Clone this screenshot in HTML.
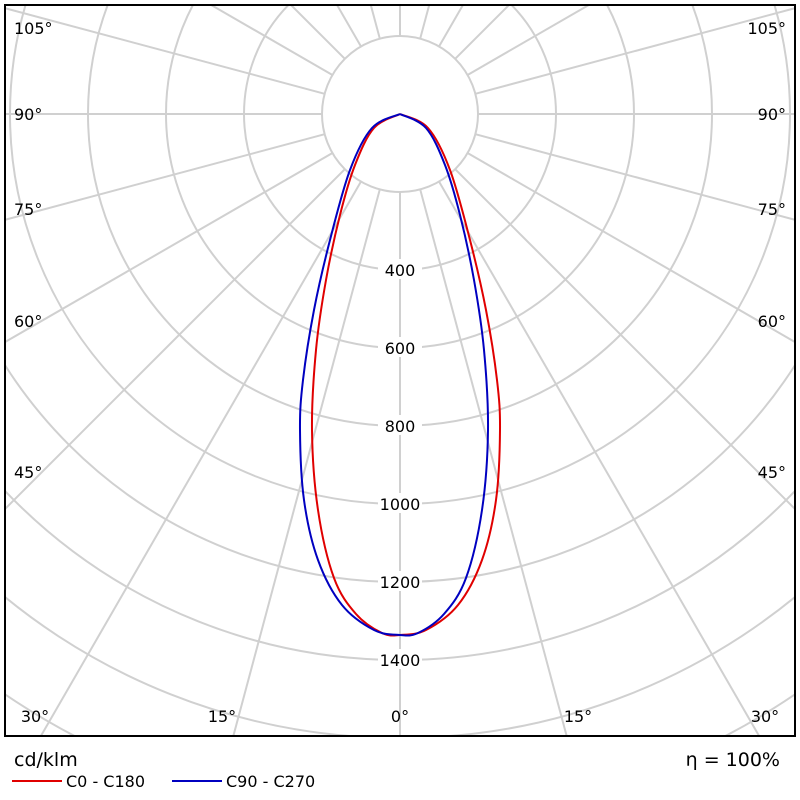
<!DOCTYPE html><html><head><style>html,body{margin:0;background:#fff;overflow:hidden;width:800px;height:800px}svg{display:block}text{font-family:"DejaVu Sans","Liberation Sans",sans-serif}</style></head><body>
<svg id="s" width="800" height="800" xmlns="http://www.w3.org/2000/svg">
<defs><clipPath id="c"><rect x="5" y="5" width="790" height="731"/></clipPath></defs>
<g id="g" clip-path="url(#c)" stroke="#d0d0d0" stroke-width="2" fill="none"></g>
<rect x="5" y="5" width="790" height="731" fill="none" stroke="#000" stroke-width="2"/>
<g id="lab" font-size="16" fill="#000"></g>
<path id="red" fill="none" stroke="#e00000" stroke-width="2"/>
<path id="blue" fill="none" stroke="#0000c0" stroke-width="2"/>
<text x="14" y="766" font-size="19">cd/klm</text>
<text x="780" y="766" font-size="19" text-anchor="end">η = 100%</text>
<line x1="12" y1="781" x2="62" y2="781" stroke="#e00000" stroke-width="2"/>
<text x="66" y="787" font-size="16">C0 - C180</text>
<line x1="172" y1="781" x2="222" y2="781" stroke="#0000c0" stroke-width="2"/>
<text x="226" y="787" font-size="16">C90 - C270</text>
</svg>
<script>
var NS="http://www.w3.org/2000/svg",g=document.getElementById('g'),lab=document.getElementById('lab');
function el(p,t,a){var e=document.createElementNS(NS,t);for(var k in a)e.setAttribute(k,a[k]);p.appendChild(e);return e;}
var cx=400,cy=114,k=0.39;
for(var a=0;a<360;a+=15){var t=a*Math.PI/180;el(g,'line',{x1:cx+78*Math.sin(t),y1:cy+78*Math.cos(t),x2:cx+1200*Math.sin(t),y2:cy+1200*Math.cos(t)});}
for(var v=200;v<=2600;v+=200)el(g,'circle',{cx:cx,cy:cy,r:v*k});
[400,600,800,1000,1200,1400].forEach(function(v){var y=cy+v*k;el(lab,'rect',{x:378,y:y-11,width:44,height:20,fill:'#fff'});var t=el(lab,'text',{x:400,y:y+6,'text-anchor':'middle'});t.textContent=v;});
[[105,28],[90,114],[75,209],[60,321],[45,472]].forEach(function(p){
 var t=el(lab,'text',{x:14,y:p[1]+6});t.textContent=p[0]+'°';
 t=el(lab,'text',{x:786,y:p[1]+6,'text-anchor':'end'});t.textContent=p[0]+'°';});
[[35,'30°'],[222,'15°'],[400,'0°'],[578,'15°'],[765,'30°']].forEach(function(p){var t=el(lab,'text',{x:p[0],y:722,'text-anchor':'middle'});t.textContent=p[1];});
var R=[[400,114],[428,128],[450,170],[470,240],[486,310],[497,380],[500,430],[496,500],[482,560],[458,605],[426,630],[400,635],[382,633],[356,614],[334,578],[318,510],[312,430],[316,350],[326,280],[340,215],[355,165],[374,128],[400,114]];
function cr(P){var d='M'+P[0][0]+','+P[0][1];for(var i=0;i<P.length-1;i++){var p0=P[Math.max(i-1,0)],p1=P[i],p2=P[i+1],p3=P[Math.min(i+2,P.length-1)];
d+='C'+(p1[0]+(p2[0]-p0[0])/6)+','+(p1[1]+(p2[1]-p0[1])/6)+' '+(p2[0]-(p3[0]-p1[0])/6)+','+(p2[1]-(p3[1]-p1[1])/6)+' '+p2[0]+','+p2[1];}return d;}
document.getElementById('red').setAttribute('d',cr(R));
document.getElementById('blue').setAttribute('d',cr(R.map(function(p){return[800-p[0],p[1]];})));
</script></body></html>
